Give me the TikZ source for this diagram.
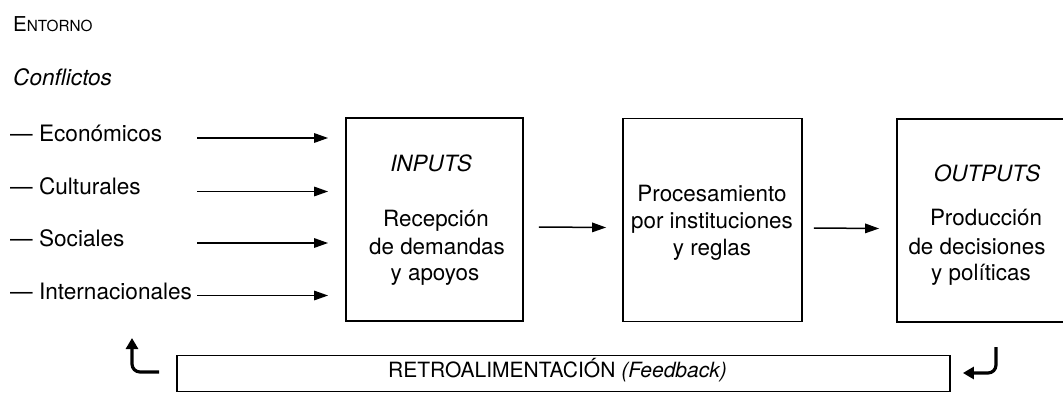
\documentclass[tikz,border=0pt]{standalone}
\usepackage{fontspec}
\setmainfont{TeX Gyre Heros}
\usetikzlibrary{arrows.meta,calc}
\begin{document}
\begin{tikzpicture}[x=1pt,y=-1pt,
  lbl/.style={anchor=base west,inner sep=0pt,font=\fontsize{22.6}{27}\selectfont},
  btxt/.style={anchor=base,inner sep=0pt,font=\fontsize{22.4}{27}\selectfont},
  box/.style={draw,line width=1.8pt,minimum width=177pt,minimum height=203pt,inner sep=0pt},
  arr/.style={line width=1.5pt,-{Triangle[length=14pt,width=9.5pt]}},
  fbarr/.style={line width=3.2pt,rounded corners=8pt,-{Triangle[length=11pt,width=12pt]}}]
\useasboundingbox (0,0) rectangle (1063,393);
\clip (0,0) rectangle (1063,393);
% titles
\node[lbl] (ent) at (13,32) {\fontsize{20.5}{24}\selectfont E\fontsize{15.3}{18}\selectfont NTORNO};
\node[lbl] (conf) at (13,86) {\textit{Conflictos}};
% conflict labels
\node[lbl] (c1) at (10,141.5) {— Económicos};
\node[lbl] (c2) at (10,194) {— Culturales};
\node[lbl] (c3) at (10,246.5) {— Sociales};
\node[lbl] (c4) at (10,299.5) {— Internacionales};
% boxes
\node[box] (b1) at (434.5,219.5) {};
\node[box,minimum width=179pt] (b2) at (712.5,220) {};
\node[box,minimum width=176pt] (b3) at (985,220.5) {};
% box texts
\node[btxt] (i0) at (431,171.7) {\textit{INPUTS}};
\node[btxt] (i1) at (436,226) {Recepción};
\node[btxt] (i2) at (437,254) {de demandas};
\node[btxt] (i3) at (435,280) {y apoyos};
\node[btxt] (p1) at (712,201.5) {Procesamiento};
\node[btxt] (p2) at (712,228) {por instituciones};
\node[btxt] (p3) at (712,255) {y reglas};
\node[btxt] (o0) at (987,181.7) {\textit{OUTPUTS}};
\node[btxt] (o1) at (986,225) {Producción};
\node[btxt] (o2) at (977,254) {de decisiones};
\node[btxt] (o3) at (981,280) {y políticas};
% input arrows
\coordinate (tipx) at ($(b1.west)+(-17,0)$);
\coordinate (s1) at (197,138);
\coordinate (s2) at (197,191.5);
\coordinate (s3) at (197,243);
\coordinate (s4) at (197,295.5);
\draw[arr] (s1) -- (s1 -| tipx);
\draw[arr] (s2) -- (s2 -| tipx);
\draw[arr] (s3) -- (s3 -| tipx);
\draw[arr] (s4) -- (s4 -| tipx);
% flow arrows
\draw[arr] ($(b1.east)+(15,7.5)$) -- ($(b2.west)+(-16,7.5)$);
\draw[arr] ($(b2.east)+(11,8)$) -- ($(b3.west)+(-17,8)$);
% feedback
\node[draw,line width=1.8pt,minimum width=773pt,minimum height=36pt,inner sep=0pt] (fb) at (563.5,373.5) {};
\node[anchor=base,inner sep=0pt,font=\fontsize{21}{24}\selectfont] (fbt) at (557.5,377.5) {RETROALIMENTACIÓN \textit{(Feedback)}};
\coordinate (la) at ($(fb.west)+(-17,-1.5)$);
\coordinate (lb) at (132,338);
\draw[fbarr] (la) -| (lb);
\coordinate (ra) at (996,347);
\coordinate (rb) at ($(fb.east)+(12,-0.5)$);
\draw[fbarr] (ra) |- (rb);
\end{tikzpicture}
\end{document}
